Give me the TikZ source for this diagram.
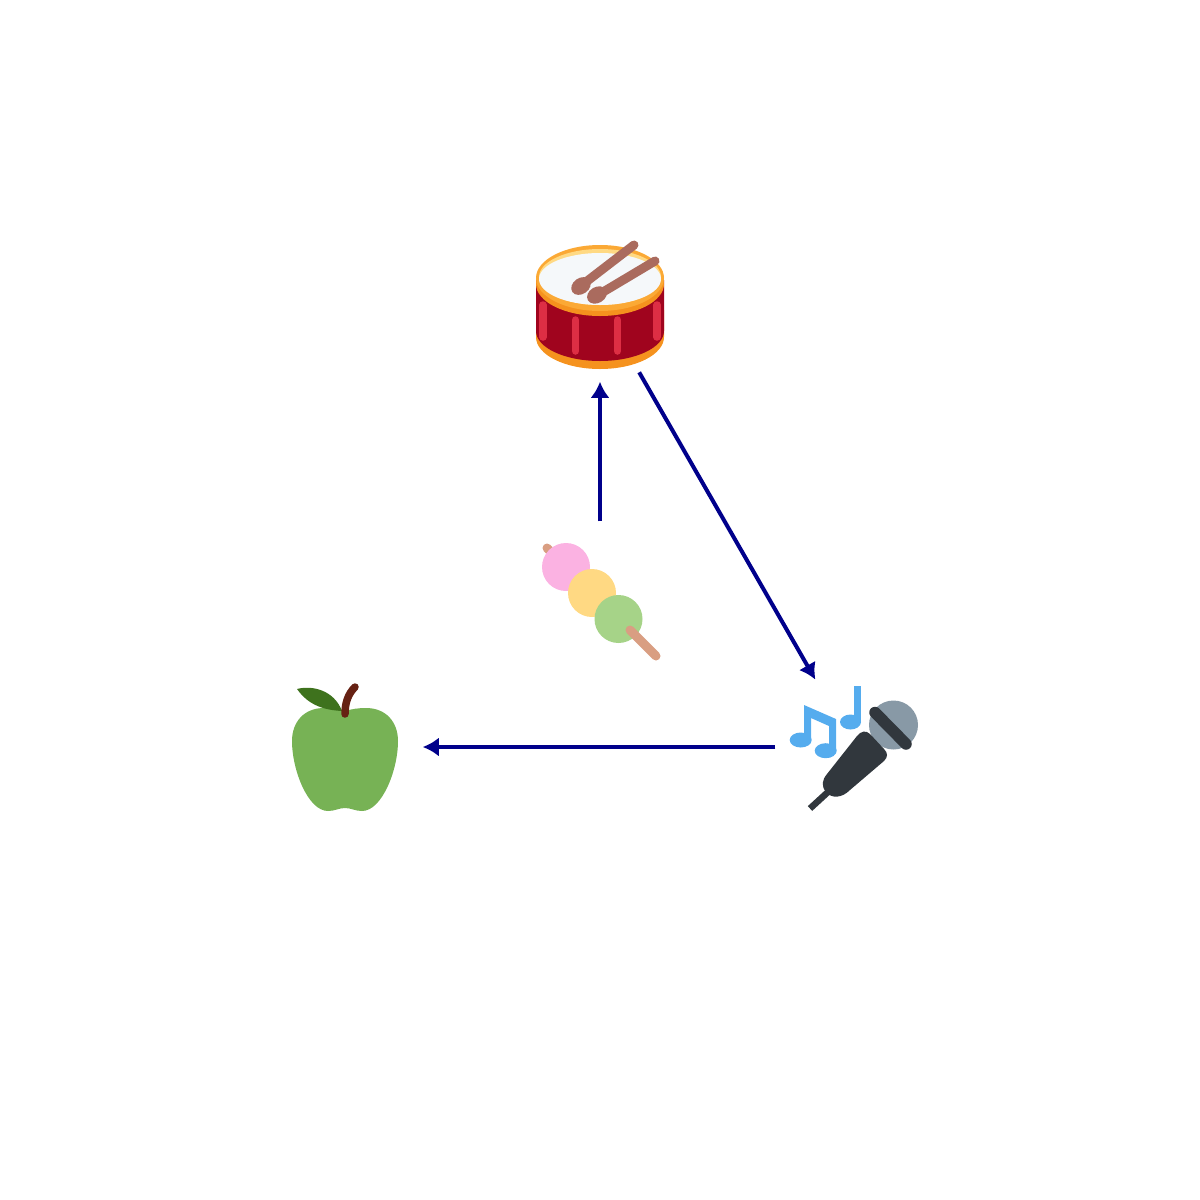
\documentclass[tikz,border=0pt]{standalone}
\usepackage{tikz}
\usetikzlibrary{arrows.meta}

\definecolor{linkblue}{HTML}{00008B}
\definecolor{drumorange}{HTML}{F5921E}
\definecolor{drumrim}{HTML}{FBA935}
\definecolor{drumlight}{HTML}{FFD983}
\definecolor{drumred}{HTML}{A0041E}
\definecolor{drumlug}{HTML}{DD2E44}
\definecolor{drumhead}{HTML}{F5F8FA}
\definecolor{drumstick}{HTML}{AA6B5E}
\definecolor{dangopink}{HTML}{FBB2E2}
\definecolor{dangoyellow}{HTML}{FFD983}
\definecolor{dangogreen}{HTML}{A6D388}
\definecolor{dangostick}{HTML}{D99E82}
\definecolor{applegreen}{HTML}{77B255}
\definecolor{appleleaf}{HTML}{3E721D}
\definecolor{applestem}{HTML}{662113}
\definecolor{micgrey}{HTML}{8899A6}
\definecolor{micdark}{HTML}{31373D}
\definecolor{noteblue}{HTML}{55ACEE}

\tikzset{
  emoji/.style={circle,minimum size=1.56cm,inner sep=0pt},
  link/.style={linkblue,line width=0.04cm,shorten >=-0.01cm,-{Latex[length=0.16cm,width=0.19cm]}},
  lug/.style={drumlug,line width=0.075cm,line cap=round},
  stick/.style={line width=0.09cm,line cap=round}
}

\begin{document}
\begin{tikzpicture}[x=0.01cm,y=-0.01cm]
    \useasboundingbox (0,0) rectangle (1200,1200);
    % drum
      \fill [drumorange] (536,310) -- (536,337) arc [start angle=180,end angle=0,x radius=64,y radius=32] -- (664,310) -- cycle;
      \fill [drumred] (536,280) -- (536,331) arc [start angle=180,end angle=0,x radius=64,y radius=30] -- (664,280) -- cycle;
      \fill [drumorange] (600,284) ellipse [x radius=64,y radius=32];
      \fill [drumrim] (600,278) ellipse [x radius=64,y radius=33];
      \fill [drumlight] (600,277) ellipse [x radius=61,y radius=28];
      \fill [drumhead] (600,279) ellipse [x radius=61,y radius=26];
      \draw [lug] (543,305) -- (543,337);
      \draw [lug] (575.5,320) -- (575.5,351);
      \draw [lug] (617.5,320) -- (617.5,351);
      \draw [lug] (657,305) -- (657,337);
      \draw [stick,drumstick] (634,245) -- (582,285);
      \fill [drumstick,shift={(581,286)},rotate=35] (0,0) ellipse [x radius=10.5,y radius=8];
      \draw [stick,drumstick] (655,261) -- (598,295);
      \fill [drumstick,shift={(597,295)},rotate=30] (0,0) ellipse [x radius=10.5,y radius=8];
    % dango
      \draw [stick,dangostick] (547,548) -- (558,559);
      \fill [dangopink] (566,567) circle [radius=24];
      \fill [dangoyellow] (592,593) circle [radius=24];
      \fill [dangogreen] (618.5,619) circle [radius=24];
      \draw [stick,dangostick] (630,630) -- (656,656);
    % apple
      \fill [applegreen] (345,711) .. controls (352,709) and (358,708) .. (366,708)
        .. controls (386,708) and (398,722) .. (398,741)
        .. controls (398,770) and (382,811) .. (362,811)
        .. controls (355,811) and (351,808) .. (345,808)
        .. controls (339,808) and (335,811) .. (328,811)
        .. controls (308,811) and (292,770) .. (292,741)
        .. controls (292,722) and (304,708) .. (324,708)
        .. controls (332,708) and (338,709) .. (345,711) -- cycle;
      \fill [appleleaf] (297,689) .. controls (312,685) and (334,690) .. (342,711)
        .. controls (325,710) and (309,706) .. (297,689) -- cycle;
      \draw [applestem,line width=0.075cm,line cap=round] (345,714) .. controls (345,703) and (348,694) .. (355,687);
    % microphone
      \fill [micgrey] (893.5,725) circle [radius=24.5];
      \draw [micdark,line width=0.115cm,line cap=round] (875,712.5) -- (906,744);
      \draw [micdark,line width=0.065cm] (828,792) -- (810,808.5);
      \fill [micdark] (857,736) .. controls (861,731) and (866,730) .. (870,734) -- (884,749)
        .. controls (888,753) and (888,757) .. (884,761) -- (850,790)
        .. controls (842,798) and (832,799) .. (826,792)
        .. controls (821,786) and (822,780) .. (827,774) -- cycle;
    % notes
      \fill [noteblue] (804,705) -- (836,719) -- (836,751) -- (829,751) -- (829,726) -- (811,718) -- (811,740) -- (804,740) -- cycle;
      \fill [noteblue] (800.7,740) ellipse [x radius=11,y radius=7.5];
      \fill [noteblue] (825.7,750.7) ellipse [x radius=11,y radius=7.5];
      \fill [noteblue] (854,686) rectangle (861,722);
      \fill [noteblue] (850.5,722) ellipse [x radius=10.5,y radius=7.5];
    % nodes and links
    \node [emoji] (drum) at (600,304) {};
    \node [emoji] (dango) at (600,600) {};
    \node [emoji] (microphone) at (854,747) {};
    \node [emoji] (apple) at (345,747) {};
      \draw [link] (dango) -- (drum);
      \draw [link] (drum) -- (microphone);
      \draw [link] (microphone) -- (apple);
  \end{tikzpicture}
\end{document}
